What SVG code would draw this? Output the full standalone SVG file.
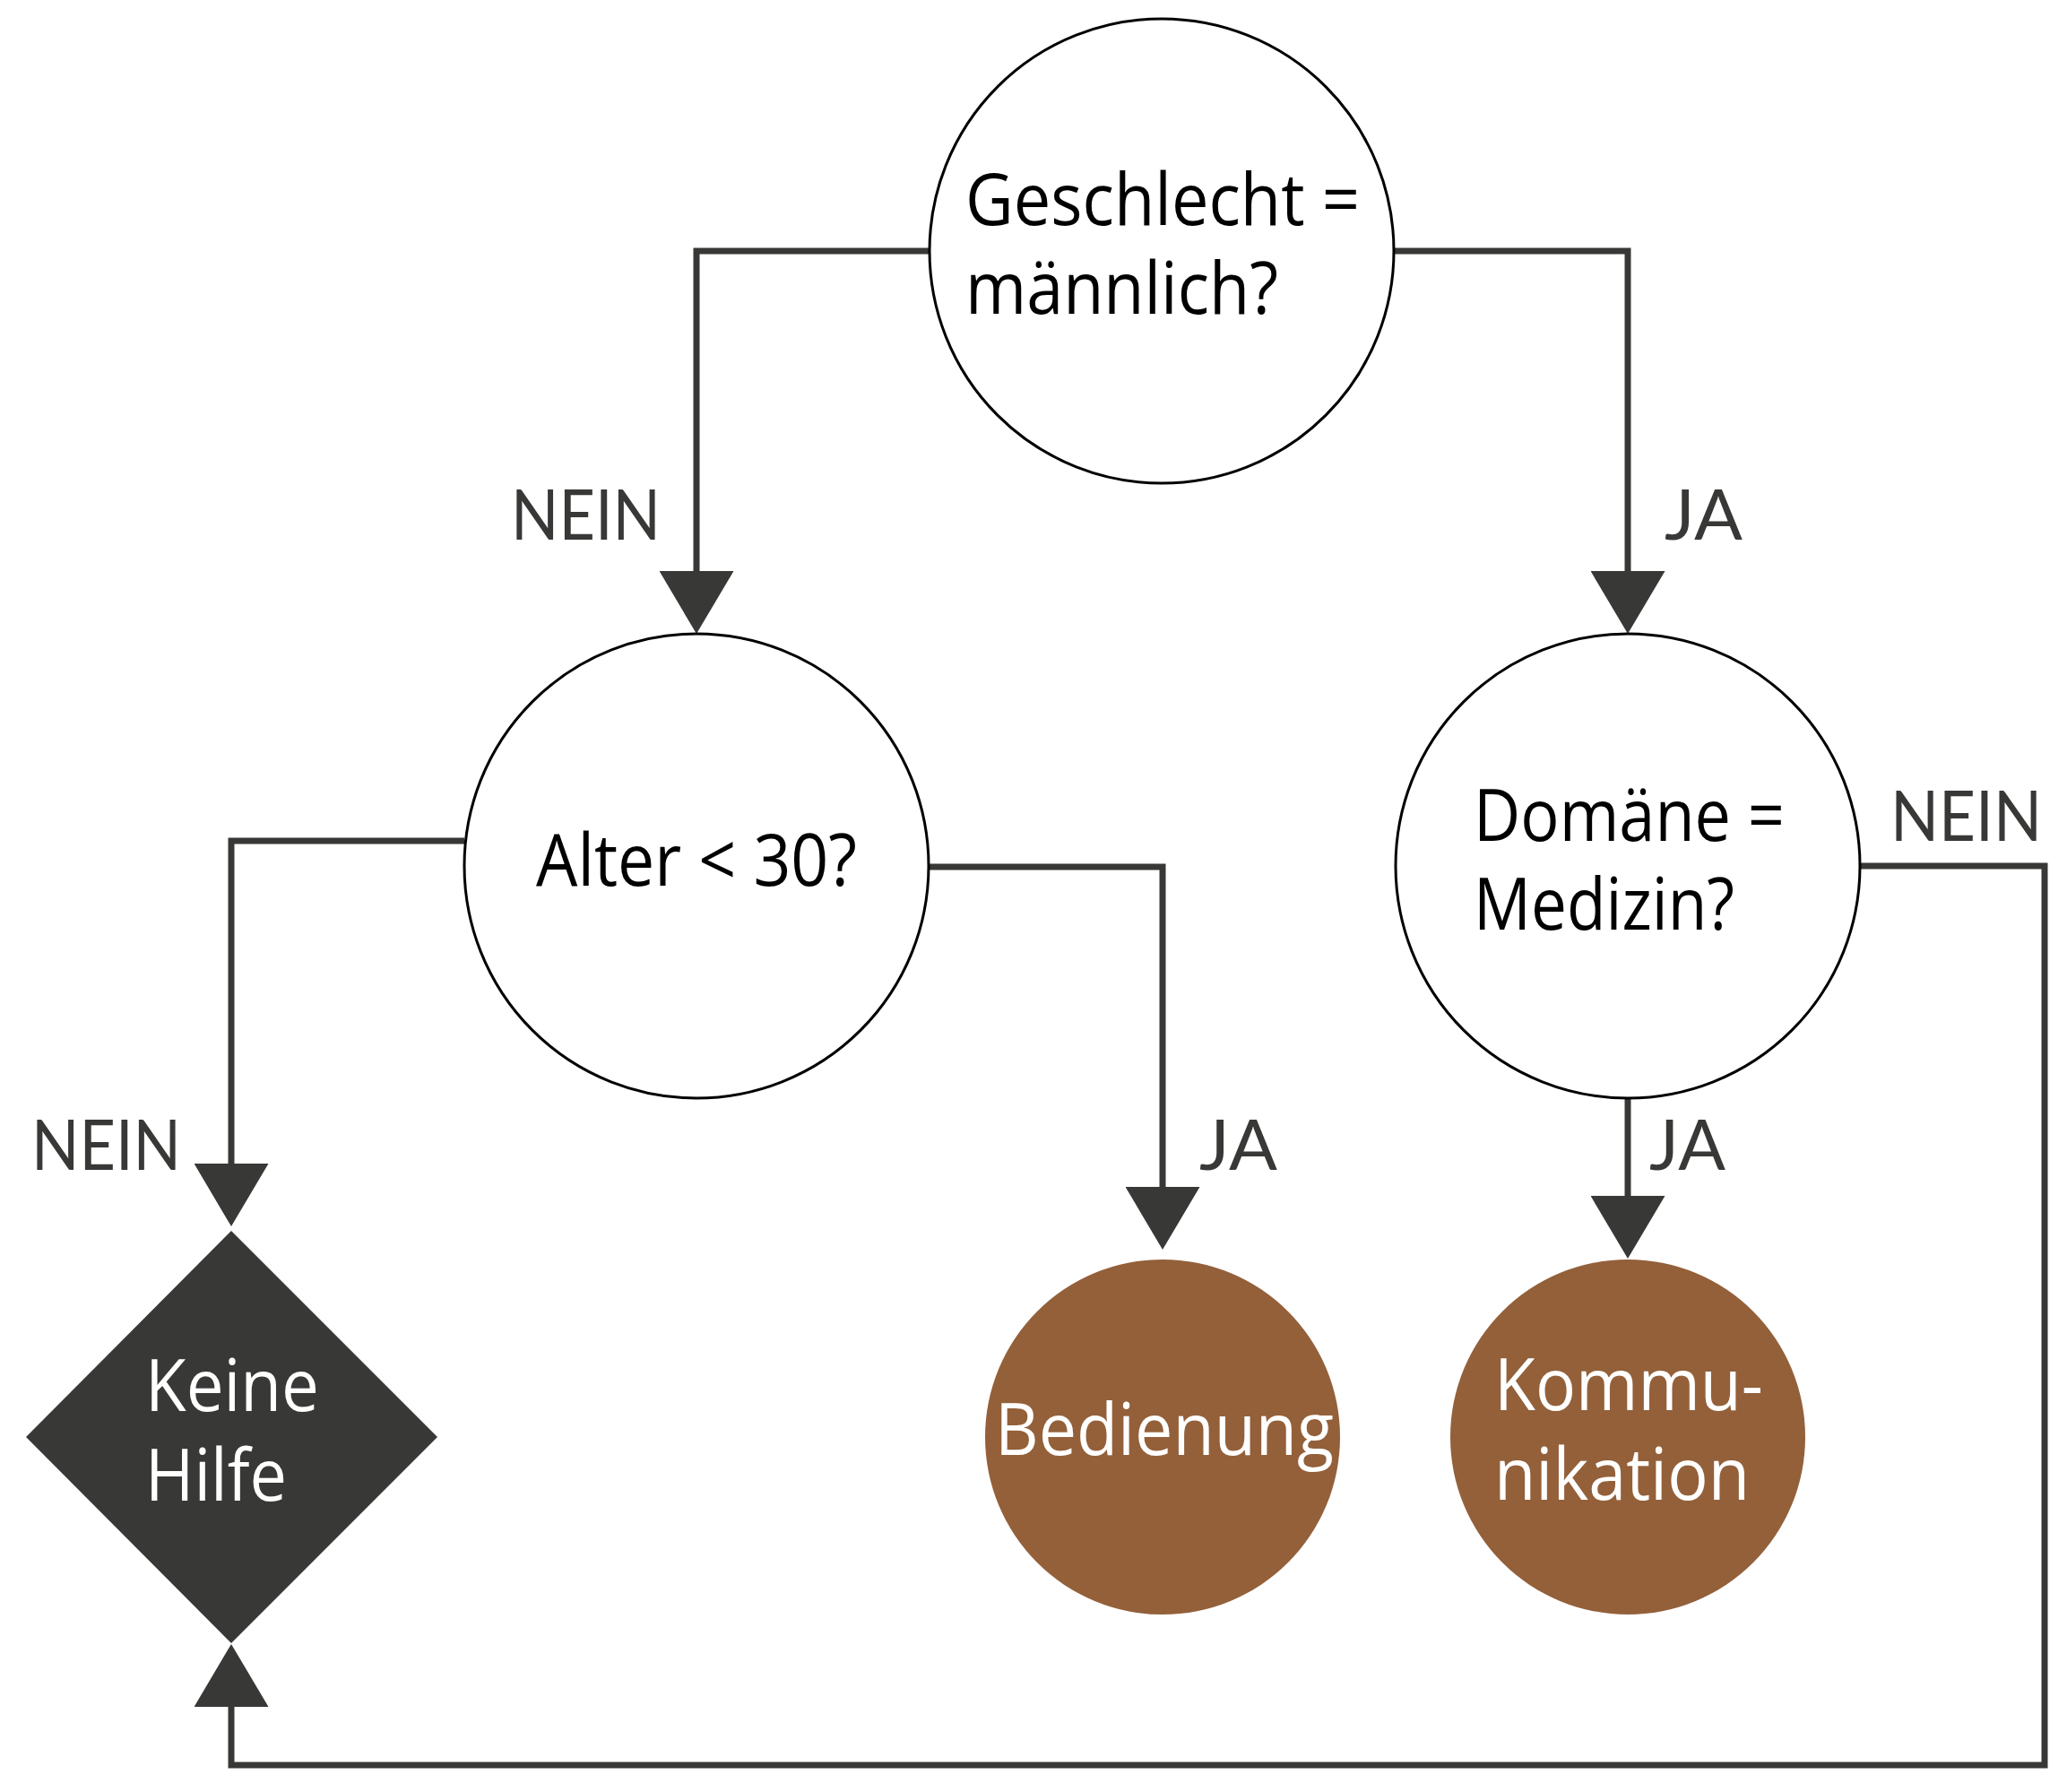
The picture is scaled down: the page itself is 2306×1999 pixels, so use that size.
<svg xmlns="http://www.w3.org/2000/svg" width="2306" height="1999" viewBox="0 0 2306 1999">
  <style>
    .q { fill: #ffffff; stroke: #000000; stroke-width: 3; }
    .r { fill: #93603a; stroke: none; }
    .d { fill: #383836; stroke: none; }
    .t { font-family: "Open Sans", "Noto Sans", "Liberation Sans", sans-serif; font-size: 80px; fill: #000000; }
    .tw { font-family: "Open Sans", "Noto Sans", "Liberation Sans", sans-serif; font-size: 80px; fill: #ffffff; }
    .lbl { font-family: "Lato", "Open Sans", "Liberation Sans", sans-serif; font-size: 77px; fill: #383836; }
    .c { fill: none; stroke: #383836; stroke-width: 7; stroke-linejoin: miter; marker-end: url(#arrow); }
  </style>
  <defs>
    <marker id="arrow" markerUnits="userSpaceOnUse" viewBox="0 0 70 83" refX="0" refY="41.5" markerWidth="70" markerHeight="83" orient="auto">
      <path d="M0,0 L70,41.5 L0,83 Z" fill="#383836"/>
    </marker>
  </defs>
  <rect x="0" y="0" width="2306" height="1999" fill="#ffffff"/>

  <g id="connectors">
    <path class="c" d="M1037,280 H777 V637"/>
    <path class="c" d="M1555,280 H1816 V637"/>
    <path class="c" d="M518,938 H258 V1298"/>
    <path class="c" d="M1036,967 H1297 V1324"/>
    <path class="c" d="M1816,1225 V1334"/>
    <path class="c" d="M2075,966 H2281 V1969 H258 V1904"/>
    <text class="lbl" x="570" y="602" textLength="167" lengthAdjust="spacingAndGlyphs">NEIN</text>
    <text class="lbl" x="1857" y="602" textLength="87" lengthAdjust="spacingAndGlyphs">JA</text>
    <text class="lbl" x="35" y="1305" textLength="167" lengthAdjust="spacingAndGlyphs">NEIN</text>
    <text class="lbl" x="1338" y="1305" textLength="87" lengthAdjust="spacingAndGlyphs">JA</text>
    <text class="lbl" x="1840" y="1305" textLength="85" lengthAdjust="spacingAndGlyphs">JA</text>
    <text class="lbl" x="2109" y="938" textLength="169" lengthAdjust="spacingAndGlyphs">NEIN</text>
  </g>

  <g id="node-geschlecht">
    <circle class="q" cx="1296" cy="280" r="259"/>
    <text class="t" x="1077" y="251" textLength="440" lengthAdjust="spacingAndGlyphs">Geschlecht =</text>
    <text class="t" x="1077" y="350" textLength="349" lengthAdjust="spacingAndGlyphs">männlich?</text>
  </g>

  <g id="node-alter">
    <circle class="q" cx="777" cy="966" r="259"/>
    <text class="t" x="598" y="988" textLength="358" lengthAdjust="spacingAndGlyphs">Alter &lt; 30?</text>
  </g>

  <g id="node-domaene">
    <circle class="q" cx="1816" cy="966" r="259"/>
    <text class="t" x="1644" y="938" textLength="347" lengthAdjust="spacingAndGlyphs">Domäne =</text>
    <text class="t" x="1644" y="1037" textLength="291" lengthAdjust="spacingAndGlyphs">Medizin?</text>
  </g>

  <g id="node-keine-hilfe">
    <polygon class="d" points="258,1373 488,1603 258,1833 29,1603"/>
    <text class="tw" x="162" y="1574" textLength="194" lengthAdjust="spacingAndGlyphs">Keine</text>
    <text class="tw" x="162" y="1674" textLength="158" lengthAdjust="spacingAndGlyphs">Hilfe</text>
  </g>

  <g id="node-bedienung">
    <circle class="r" cx="1297" cy="1603" r="198"/>
    <text class="tw" x="1110" y="1623" textLength="378" lengthAdjust="spacingAndGlyphs">Bedienung</text>
  </g>

  <g id="node-kommunikation">
    <circle class="r" cx="1816" cy="1603" r="198"/>
    <text class="tw" x="1667" y="1573" textLength="300" lengthAdjust="spacingAndGlyphs">Kommu-</text>
    <text class="tw" x="1667" y="1673" textLength="285" lengthAdjust="spacingAndGlyphs">nikation</text>
  </g>
</svg>
